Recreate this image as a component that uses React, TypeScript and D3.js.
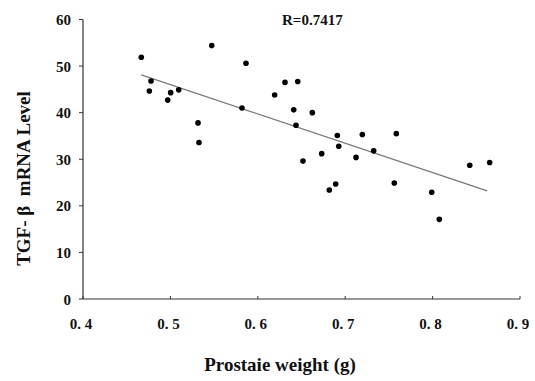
import React from "react";
import * as d3 from "d3";

const weights = [0.4667,0.4778,0.4759,0.5003,0.4969,0.5095,0.5473,0.5316,0.5327,0.5865,0.5819,0.6193,0.6311,0.6457,0.6411,0.6624,0.6437,0.691,0.7196,0.7585,0.6926,0.7326,0.6517,0.6731,0.7124,0.8425,0.8653,0.6891,0.6818,0.7562,0.799,0.8077];
const levels = [51.9,46.8,44.65,44.3,42.7,44.9,54.4,37.8,33.6,50.6,41.0,43.8,46.5,46.7,40.6,40.0,37.3,35.1,35.3,35.5,32.8,31.8,29.6,31.2,30.4,28.7,29.3,24.7,23.4,24.9,22.9,17.1];
const fitX = [0.4667, 0.8624];
const fitY = [48.1, 23.2];
const xTicks = [0.4, 0.5, 0.6, 0.7, 0.8, 0.9];
const xTickLabels = ["0. 4", "0. 5", "0. 6", "0. 7", "0. 8", "0. 9"];
const yTicks = [0, 10, 20, 30, 40, 50, 60];
const rLabel = "R=0.7417";
const xTitle = "Prostaie weight (g)";
const yTitle = "TGF- β  mRNA Level";

export default function App() {
  const W = 535, H = 381;
  const x = d3.scaleLinear().domain([0.4, 0.9]).range([83, 520]);
  const y = d3.scaleLinear().domain([0, 60]).range([299, 19.5]);
  const font = "'Liberation Serif', 'Times New Roman', serif";
  const line = d3.line<number>().x((d) => x(fitX[d])).y((d) => y(fitY[d]));
  return (
    <svg width={W} height={H} style={{ position: "absolute", left: 0, top: 0, background: "#fff" }}>
      <rect width={W} height={H} fill="#fff" />
      <line x1={x(0.4)} x2={x(0.4)} y1={y(0)} y2={y(60)} stroke="#333" strokeWidth={1.2} />
      <line x1={x(0.4)} x2={x(0.9)} y1={y(0)} y2={y(0)} stroke="#333" strokeWidth={1.2} />
      {yTicks.map((t) => (
        <g key={"y" + t}>
          <line x1={x(0.4) - 4} x2={x(0.4)} y1={y(t)} y2={y(t)} stroke="#333" strokeWidth={1} />
          <text x={71} y={y(t) + 5.5} textAnchor="end" fontFamily={font} fontWeight="bold" fontSize={15} fill="#111">{t}</text>
        </g>
      ))}
      {xTicks.map((t, i) => (
        <g key={"x" + t}>
          <line x1={x(t)} x2={x(t)} y1={y(0)} y2={y(0) - 3} stroke="#333" strokeWidth={1} />
          <text x={x(t) - 2} y={328.5} textAnchor="middle" fontFamily={font} fontWeight="bold" fontSize={15} fill="#111" style={{ whiteSpace: "pre" }}>{xTickLabels[i]}</text>
        </g>
      ))}
      <path d={line([0, 1]) || ""} stroke="#777" strokeWidth={1.2} fill="none" />
      {weights.map((w, i) => (
        <circle key={i} cx={x(w)} cy={y(levels[i])} r={2.8} fill="#000" />
      ))}
      <text x={282} y={25} fontFamily={font} fontWeight="bold" fontSize={15} fill="#111">{rLabel}</text>
      <text x={280} y={371} textAnchor="middle" fontFamily={font} fontWeight="bold" fontSize={19} fill="#111">{xTitle}</text>
      <text transform={`translate(30,178.5) rotate(-90)`} textAnchor="middle" fontFamily={font} fontWeight="bold" fontSize={19} fill="#111" style={{ whiteSpace: "pre" }}>{yTitle}</text>
    </svg>
  );
}
